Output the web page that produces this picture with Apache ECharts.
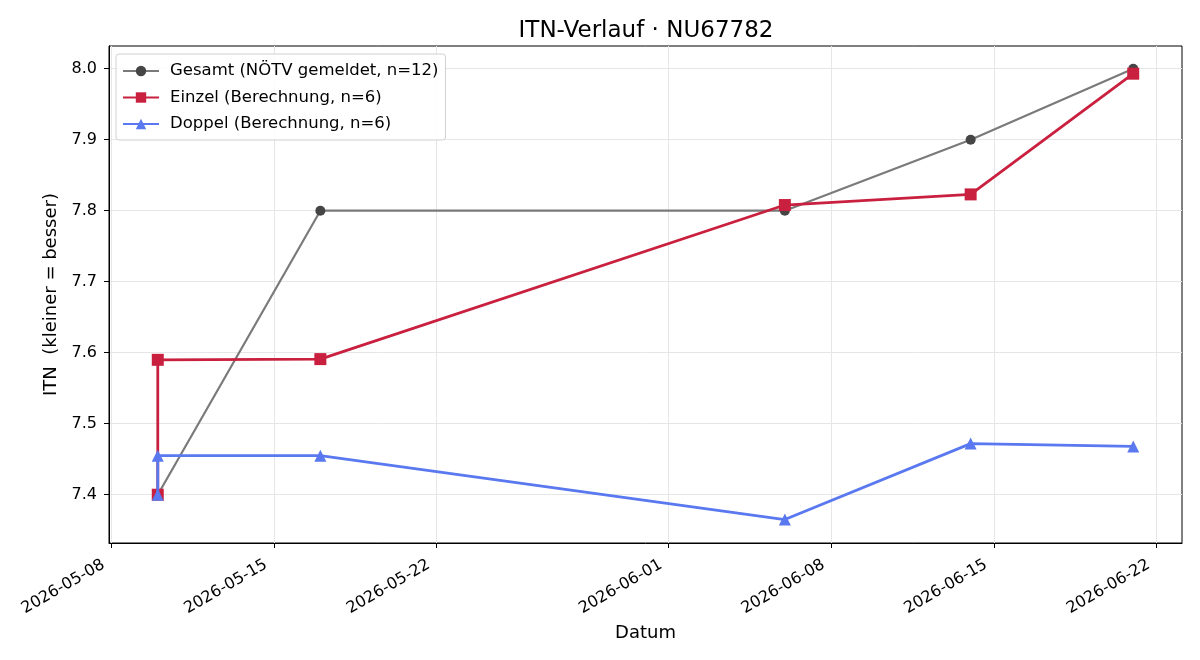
<!DOCTYPE html>
<html>
<head>
<meta charset="utf-8">
<script src="https://cdn.jsdelivr.net/npm/echarts@6/dist/echarts.min.js"></script>
<style>
  html, body { margin: 0; padding: 0; background: #fff; }
  #chart-container { width: 1200px; height: 660px; }
</style>
</head>
<body>
<div id="chart-container"></div>
<script>
// data
const gesamtDates = ["2026-05-10", "2026-05-17", "2026-06-06", "2026-06-14", "2026-06-21"];
const gesamtValues = [7.40, 7.80, 7.80, 7.90, 8.00];

const einzelDates = ["2026-05-10", "2026-05-10", "2026-05-17", "2026-06-06", "2026-06-14", "2026-06-21"];
const einzelValues = [7.400, 7.590, 7.591, 7.808, 7.823, 7.993];

const doppelDates = ["2026-05-10", "2026-05-10", "2026-05-17", "2026-06-06", "2026-06-14", "2026-06-21"];
const doppelValues = [7.400, 7.455, 7.455, 7.365, 7.472, 7.468];

const xTicks = ["2026-05-08", "2026-05-15", "2026-05-22", "2026-06-01", "2026-06-08", "2026-06-15", "2026-06-22"];
const yTicks = [7.4, 7.5, 7.6, 7.7, 7.8, 7.9, 8.0];

const DAY = 86400000;
function ts(s) {
  const p = s.split("-");
  return Date.UTC(+p[0], +p[1] - 1, +p[2]);
}
function pad(n) { return n < 10 ? "0" + n : "" + n; }
function fmt(v) {
  const d = new Date(v);
  return d.getUTCFullYear() + "-" + pad(d.getUTCMonth() + 1) + "-" + pad(d.getUTCDate());
}
function pairs(dates, values) {
  return dates.map((d, i) => [ts(d), values[i]]);
}

const xMin = ts("2026-05-10") - 2.1 * DAY;
const xMax = ts("2026-06-21") + 2.1 * DAY;
const xTickValues = xTicks.map(ts);

const font = "DejaVu Sans";

const chart = echarts.init(document.getElementById("chart-container"), null, { renderer: "canvas" });

const option = {
  animation: false,
  textStyle: { fontFamily: font },
  title: {
    text: "ITN-Verlauf · NU67782",
    left: 641,
    textAlign: "center",
    top: 15,
    textStyle: { fontFamily: font, fontSize: 23, fontWeight: "normal", color: "#000" },
  },
  grid: {
    left: 109,
    right: 18,
    top: 46,
    bottom: 117,
    show: true,
    borderColor: "#000",
    borderWidth: 1,
    backgroundColor: "transparent",
  },
  legend: {
    orient: "vertical",
    left: 116,
    top: 54,
    padding: [8, 7, 7, 6],
    itemGap: 8.5,
    itemWidth: 36,
    itemHeight: 13,
    backgroundColor: "rgba(255,255,255,0.85)",
    borderColor: "#d0d0d0",
    borderWidth: 1,
    borderRadius: 3,
    textStyle: { fontFamily: font, fontSize: 16.5, lineHeight: 18, color: "#000", padding: [0, 0, 0, 6] },
    data: ["Gesamt (NÖTV gemeldet, n=12)", "Einzel (Berechnung, n=6)", "Doppel (Berechnung, n=6)"],
  },
  xAxis: {
    type: "value",
    min: xMin,
    max: xMax,
    name: "Datum",
    nameLocation: "middle",
    nameGap: 81,
    nameTextStyle: { fontFamily: font, fontSize: 18, color: "#000" },
    axisLine: { show: true, lineStyle: { color: "#000", width: 1 } },
    axisTick: {
      show: true,
      length: 5,
      inside: false,
      customValues: xTickValues,
      lineStyle: { color: "#000" },
    },
    axisLabel: {
      customValues: xTickValues,
      rotate: 30,
      margin: 16,
      padding: [0, 9, 0, 0],
      fontFamily: font,
      fontSize: 16,
      color: "#000",
      formatter: (v) => fmt(v),
    },
    splitLine: { show: true, lineStyle: { color: "#e6e6e6", width: 1 } },
  },
  yAxis: {
    type: "value",
    min: 7.332,
    max: 8.032,
    name: "ITN  (kleiner = besser)",
    nameLocation: "middle",
    nameGap: 47,
    nameTextStyle: { fontFamily: font, fontSize: 18, color: "#000" },
    axisLine: { show: true, lineStyle: { color: "#000", width: 1 } },
    axisTick: {
      show: true,
      length: 5,
      customValues: yTicks,
      lineStyle: { color: "#000" },
    },
    axisLabel: {
      customValues: yTicks,
      margin: 12,
      fontFamily: font,
      fontSize: 16,
      color: "#000",
      formatter: (v) => v.toFixed(1),
    },
    splitLine: { show: true, lineStyle: { color: "#e6e6e6", width: 1 } },
  },
  series: [
    {
      name: "Gesamt (NÖTV gemeldet, n=12)",
      type: "line",
      data: pairs(gesamtDates, gesamtValues),
      symbol: "circle",
      symbolSize: 10,
      lineStyle: { color: "#7a7a7a", width: 2.2 },
      itemStyle: { color: "#454545" },
      z: 2,
    },
    {
      name: "Einzel (Berechnung, n=6)",
      type: "line",
      data: pairs(einzelDates, einzelValues),
      symbol: "rect",
      symbolSize: 12,
      lineStyle: { color: "#c9203f", width: 2.8 },
      itemStyle: { color: "#c9203f" },
      z: 3,
    },
    {
      name: "Doppel (Berechnung, n=6)",
      type: "line",
      data: pairs(doppelDates, doppelValues),
      symbol: "triangle",
      symbolSize: 12,
      lineStyle: { color: "#5a78ef", width: 2.8 },
      itemStyle: { color: "#5a78ef" },
      z: 4,
    },
  ],
};

chart.setOption(option);
window.addEventListener("resize", () => chart.resize());
</script>
</body>
</html>
